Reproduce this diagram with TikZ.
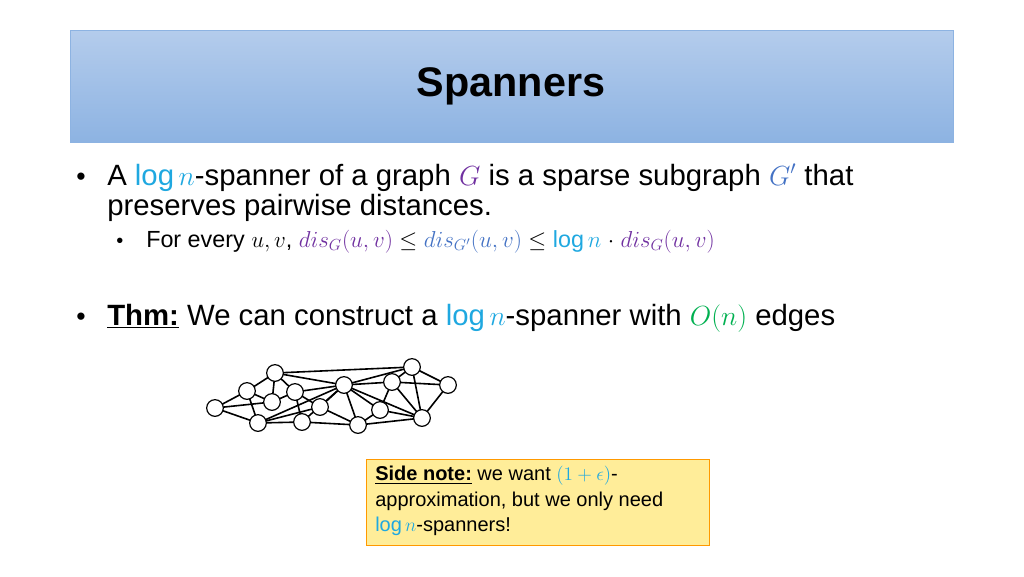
\documentclass[tikz,border=0pt]{standalone}
\usepackage{fontspec}
\setmainfont{Liberation Sans}
\usetikzlibrary{backgrounds}
\definecolor{cy}{HTML}{1FA8E0}
\definecolor{pu}{HTML}{7030A0}
\definecolor{bl}{HTML}{4472C4}
\definecolor{gr}{HTML}{00B050}
\definecolor{tt}{HTML}{B4CCEC}
\definecolor{tb}{HTML}{8DB3E2}
\newcommand{\lgn}{\textcolor{cy}{$\log n$}}
\begin{document}
\begin{tikzpicture}[x=0.75pt,y=-0.75pt,
  vt/.style={circle,draw=black,fill=white,line width=0.9pt,minimum size=12.5pt,inner sep=0pt},
  ed/.style={line width=1.2pt},
  txt/.style={anchor=base west,inner sep=0pt}]
\useasboundingbox (0,0) rectangle (1024,576);
\shade[top color=tt,bottom color=tb,draw=tb] (70,30) rectangle (953,142);
\node[font=\bfseries\fontsize{31}{34}\selectfont] (title) at (511,86) {Spanners};

\node[txt,font=\fontsize{20}{24}\selectfont] (b1) at (76,185) {•};
\node[txt,font=\fontsize{22}{26}\selectfont] (l1) at (107,185) {A \lgn-spanner of a graph \textcolor{pu}{$G$} is a sparse subgraph \textcolor{bl}{$G'$} that};
\node[txt,font=\fontsize{22}{26}\selectfont] (l2) at (107,215) {preserves pairwise distances.};
\node[txt,font=\fontsize{15}{18}\selectfont] (b2) at (116,247) {•};
\node[txt,font=\fontsize{17.5}{20}\selectfont] (l3) at (146,247) {For every $u,v$, \textcolor{pu}{$dis_G(u,v)$} $\le$ \textcolor{bl}{$dis_{G'}(u,v)$} $\le$ \textcolor{cy}{$\log n$} $\cdot$ \textcolor{pu}{$dis_G(u,v)$}};
\node[txt,font=\fontsize{20}{24}\selectfont] (b3) at (76,325) {•};
\node[txt,font=\fontsize{22}{26}\selectfont] (l4) at (107,325) {\underline{\textbf{Thm:}} We can construct a \lgn-spanner with \textcolor{gr}{$O(n)$} edges};

\foreach \n/\x/\y in {1/215/408,2/247/391,3/275/373,4/272/402,5/295/392,6/258/423,7/302/422,8/320/407,9/344/385,10/358/425,11/380/410,12/392/382,13/412/367,14/448/385,15/422/418}
  \node[vt] (n\n) at (\x,\y) {};
\begin{pgfonlayer}{background}
\foreach \a/\b in {1/2,1/4,1/6,2/3,2/4,2/6,3/4,3/5,3/9,3/13,4/5,5/7,5/8,5/9,6/7,6/9,6/8,7/9,7/10,8/9,8/10,9/12,9/13,9/10,9/11,9/15,10/15,10/11,11/12,11/15,12/13,12/14,12/15,13/14,13/15,14/15}
  \draw[ed] (n\a.center) -- (n\b.center);
\end{pgfonlayer}

\node[draw=orange!80!yellow,fill=orange!35!yellow!40,line width=0.6pt,minimum width=257pt,minimum height=64pt] (box) at (538,502.5) {};
\node[anchor=north west,align=left,font=\fontsize{15}{19}\selectfont,inner sep=0pt] (side) at (375,466) {\underline{\textbf{Side note:}} we want \textcolor{cy}{$(1+\epsilon)$}-\\approximation, but we only need\\\lgn-spanners!};
\end{tikzpicture}
\end{document}
